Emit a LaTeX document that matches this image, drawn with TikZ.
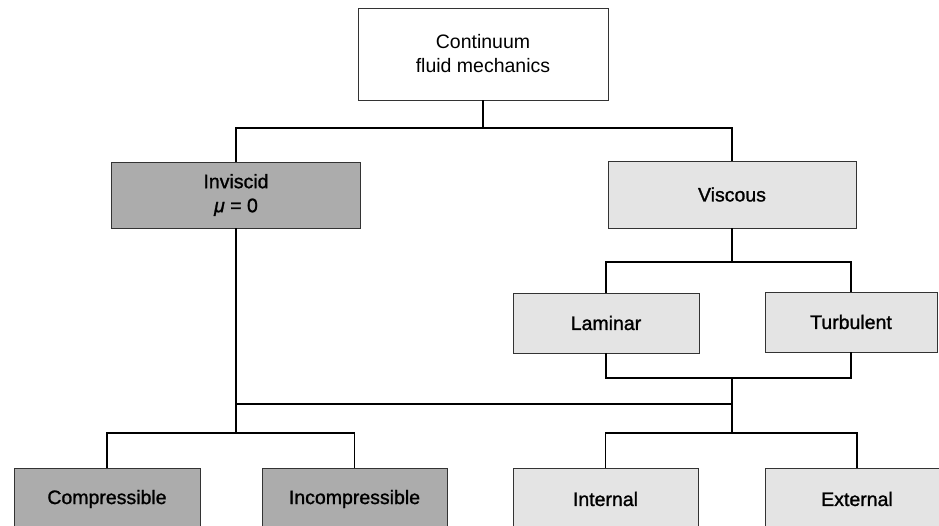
\documentclass[tikz,border=0pt]{standalone}
\usepackage{fontspec}
\setmainfont{Liberation Sans}
\newfontfamily\boxfont[FakeBold=1.2]{Liberation Sans}
\usepackage{xcolor}
\usepackage{tikz}
\usetikzlibrary{positioning}

\definecolor{darkfill}{RGB}{172,172,172}
\definecolor{lightfill}{RGB}{228,228,228}

\begin{document}
\begin{tikzpicture}[x=1pt,y=1pt,
    basebox/.style={draw=black!80, line width=0.9pt, inner sep=0pt, align=center,
        font=\fontsize{19.5}{24}\selectfont},
    topbox/.style={basebox, fill=white, minimum width=250, minimum height=92},
    darkbox/.style={basebox, fill=darkfill, font=\fontsize{19.5}{24}\selectfont\boxfont},
    lightbox/.style={basebox, fill=lightfill, font=\fontsize{19.5}{24}\selectfont\boxfont},
    link/.style={draw=black, line width=1.1pt}]
    \useasboundingbox (0,0) rectangle (939,-526);
    \clip (0,0) rectangle (939,-526);

    % Boxes
    \node[topbox] (cont) at (483,-54) {Continuum\\fluid mechanics};
    \node[darkbox, minimum width=249, minimum height=66] (invisc) at (236,-195) {Inviscid\\{\itshape μ} = 0};
    \node[lightbox, minimum width=248, minimum height=67] (visc) at (732,-194.5) {Viscous};
    \node[lightbox, minimum width=186, minimum height=60] (lam) at (606,-323) {Laminar};
    \node[lightbox, minimum width=172, minimum height=60] (turb) at (851,-322) {Turbulent};
    \node[darkbox, minimum width=186, minimum height=62] (comp) at (107,-499) {Compressible};
    \node[darkbox, minimum width=185, minimum height=62] (incomp) at (354.5,-499) {Incompressible};
    \node[lightbox, minimum width=185, minimum height=62] (int) at (605.5,-499) {Internal};
    \node[lightbox, minimum width=184, minimum height=62] (ext) at (857,-499) {External};

    % Junctions
    \coordinate (j1) at (483,-128);
    \coordinate (j2) at (732,-262);
    \coordinate (j3) at (732,-378);
    \coordinate (j4) at (732,-433);
    \coordinate (j5) at (236,-433);
    \coordinate (k1) at (732,-404);

    % Connectors
    \draw[link] (cont.south) -- (j1);
    \draw[link] (invisc.north) |- (j1) -| (visc.north);
    \draw[link] (visc.south) -- (j2);
    \draw[link] (lam.north) |- (j2) -| (turb.north);
    \draw[link] (lam.south) |- (j3) -| (turb.south);
    \draw[link] (j3) -- (j4);
    \draw[link] (invisc.south) -- (j5);
    \draw[link] (k1) -- (k1 -| invisc.south);
    \draw[link] (comp.north) |- (j5) -| (incomp.north);
    \draw[link] (int.north) |- (j4) -| (ext.north);
\end{tikzpicture}
\end{document}
